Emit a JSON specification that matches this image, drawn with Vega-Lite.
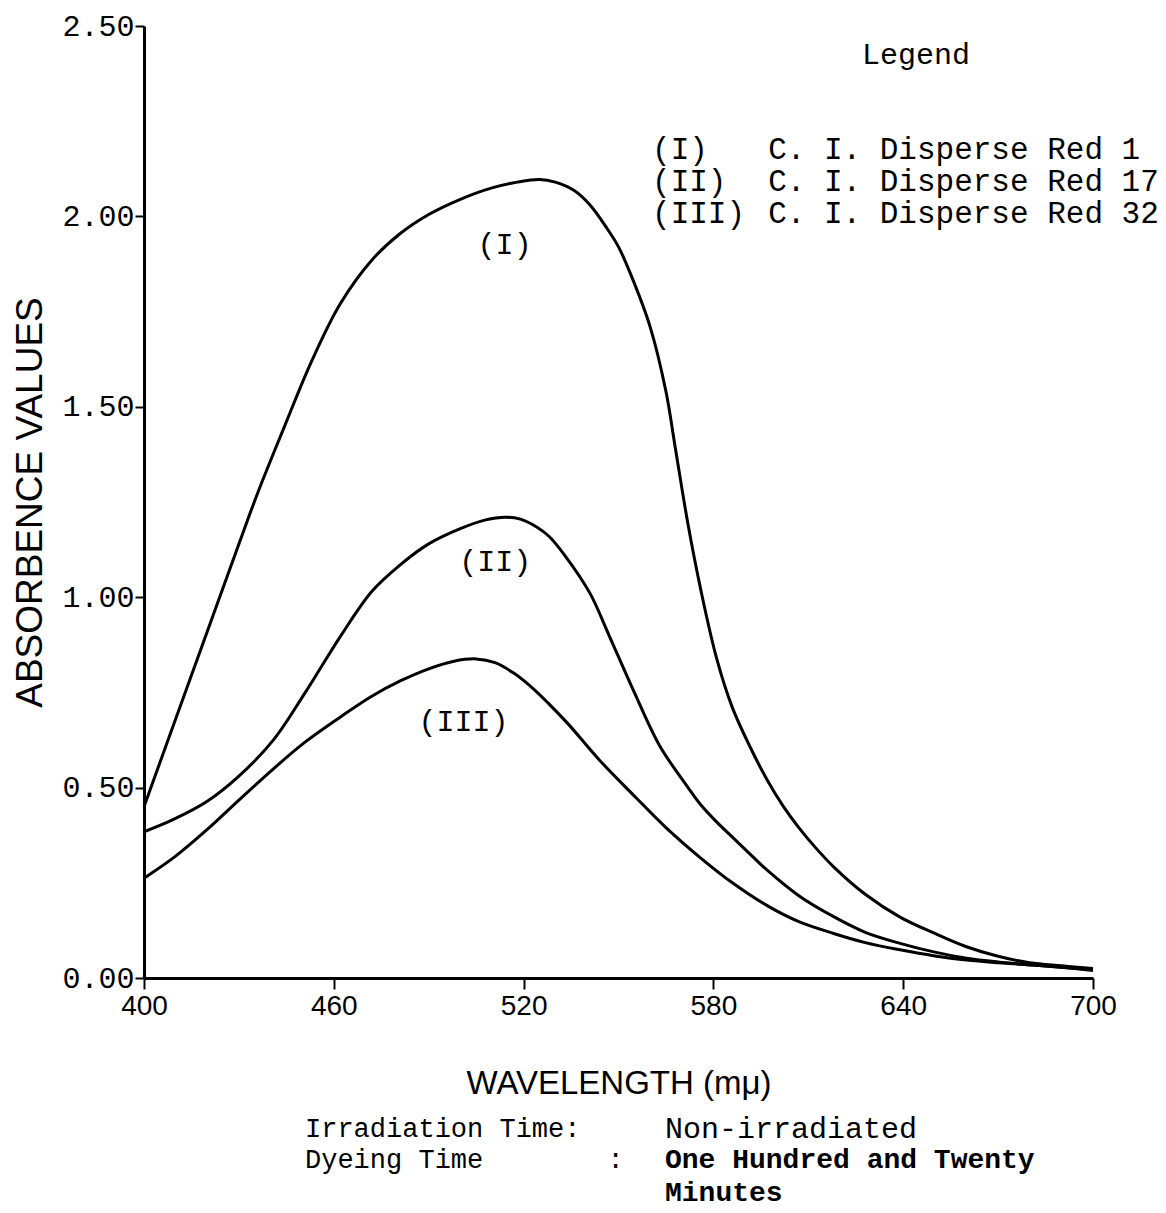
{
  "$schema": "https://vega.github.io/schema/vega-lite/v6.json",
  "width": 949,
  "height": 952,
  "autosize": {"type": "none"},
  "padding": {"left": 144, "top": 26, "right": 73, "bottom": 235},
  "background": "white",
  "config": {"view": {"stroke": null}},
  "datasets": {
    "curves": [
      {"dye": "I", "wl": 400, "A": 0.45}, {"dye": "I", "wl": 410, "A": 0.68}, {"dye": "I", "wl": 420, "A": 0.91}, {"dye": "I", "wl": 430, "A": 1.14}, {"dye": "I", "wl": 436, "A": 1.275}, {"dye": "I", "wl": 444, "A": 1.44}, {"dye": "I", "wl": 453, "A": 1.62}, {"dye": "I", "wl": 462, "A": 1.77}, {"dye": "I", "wl": 472, "A": 1.885}, {"dye": "I", "wl": 481, "A": 1.955}, {"dye": "I", "wl": 490, "A": 2.005}, {"dye": "I", "wl": 500, "A": 2.045}, {"dye": "I", "wl": 510, "A": 2.075}, {"dye": "I", "wl": 518, "A": 2.09}, {"dye": "I", "wl": 525, "A": 2.097}, {"dye": "I", "wl": 530, "A": 2.09}, {"dye": "I", "wl": 536, "A": 2.068}, {"dye": "I", "wl": 541, "A": 2.03}, {"dye": "I", "wl": 546, "A": 1.973}, {"dye": "I", "wl": 550, "A": 1.92}, {"dye": "I", "wl": 554, "A": 1.845}, {"dye": "I", "wl": 560, "A": 1.71}, {"dye": "I", "wl": 565, "A": 1.54}, {"dye": "I", "wl": 568, "A": 1.39}, {"dye": "I", "wl": 572, "A": 1.19}, {"dye": "I", "wl": 576, "A": 1.02}, {"dye": "I", "wl": 581, "A": 0.84}, {"dye": "I", "wl": 586, "A": 0.71}, {"dye": "I", "wl": 592, "A": 0.6}, {"dye": "I", "wl": 597, "A": 0.52}, {"dye": "I", "wl": 602, "A": 0.452}, {"dye": "I", "wl": 607, "A": 0.395}, {"dye": "I", "wl": 612, "A": 0.345}, {"dye": "I", "wl": 618, "A": 0.292}, {"dye": "I", "wl": 628, "A": 0.22}, {"dye": "I", "wl": 639, "A": 0.16}, {"dye": "I", "wl": 650, "A": 0.117}, {"dye": "I", "wl": 660, "A": 0.082}, {"dye": "I", "wl": 670, "A": 0.057}, {"dye": "I", "wl": 680, "A": 0.04}, {"dye": "I", "wl": 690, "A": 0.032}, {"dye": "I", "wl": 700, "A": 0.025},
      {"dye": "II", "wl": 400, "A": 0.384}, {"dye": "II", "wl": 409, "A": 0.415}, {"dye": "II", "wl": 420, "A": 0.464}, {"dye": "II", "wl": 430, "A": 0.53}, {"dye": "II", "wl": 441, "A": 0.626}, {"dye": "II", "wl": 451, "A": 0.75}, {"dye": "II", "wl": 462, "A": 0.896}, {"dye": "II", "wl": 472, "A": 1.015}, {"dye": "II", "wl": 481, "A": 1.085}, {"dye": "II", "wl": 490, "A": 1.14}, {"dye": "II", "wl": 500, "A": 1.18}, {"dye": "II", "wl": 508, "A": 1.203}, {"dye": "II", "wl": 514, "A": 1.21}, {"dye": "II", "wl": 519, "A": 1.205}, {"dye": "II", "wl": 524, "A": 1.185}, {"dye": "II", "wl": 528, "A": 1.16}, {"dye": "II", "wl": 533, "A": 1.11}, {"dye": "II", "wl": 541, "A": 1.01}, {"dye": "II", "wl": 547, "A": 0.9}, {"dye": "II", "wl": 555, "A": 0.75}, {"dye": "II", "wl": 563, "A": 0.61}, {"dye": "II", "wl": 572, "A": 0.5}, {"dye": "II", "wl": 576, "A": 0.455}, {"dye": "II", "wl": 581, "A": 0.41}, {"dye": "II", "wl": 586, "A": 0.37}, {"dye": "II", "wl": 592, "A": 0.322}, {"dye": "II", "wl": 597, "A": 0.283}, {"dye": "II", "wl": 607, "A": 0.216}, {"dye": "II", "wl": 618, "A": 0.161}, {"dye": "II", "wl": 628, "A": 0.12}, {"dye": "II", "wl": 639, "A": 0.091}, {"dye": "II", "wl": 650, "A": 0.068}, {"dye": "II", "wl": 660, "A": 0.052}, {"dye": "II", "wl": 670, "A": 0.042}, {"dye": "II", "wl": 681, "A": 0.034}, {"dye": "II", "wl": 690, "A": 0.028}, {"dye": "II", "wl": 700, "A": 0.022},
      {"dye": "III", "wl": 400, "A": 0.262}, {"dye": "III", "wl": 410, "A": 0.32}, {"dye": "III", "wl": 420, "A": 0.39}, {"dye": "III", "wl": 430, "A": 0.467}, {"dye": "III", "wl": 441, "A": 0.55}, {"dye": "III", "wl": 451, "A": 0.62}, {"dye": "III", "wl": 462, "A": 0.685}, {"dye": "III", "wl": 472, "A": 0.74}, {"dye": "III", "wl": 481, "A": 0.78}, {"dye": "III", "wl": 490, "A": 0.812}, {"dye": "III", "wl": 498, "A": 0.832}, {"dye": "III", "wl": 505, "A": 0.838}, {"dye": "III", "wl": 511, "A": 0.828}, {"dye": "III", "wl": 517, "A": 0.8}, {"dye": "III", "wl": 523, "A": 0.76}, {"dye": "III", "wl": 528, "A": 0.72}, {"dye": "III", "wl": 534, "A": 0.668}, {"dye": "III", "wl": 544, "A": 0.572}, {"dye": "III", "wl": 555, "A": 0.478}, {"dye": "III", "wl": 565, "A": 0.395}, {"dye": "III", "wl": 576, "A": 0.315}, {"dye": "III", "wl": 586, "A": 0.25}, {"dye": "III", "wl": 597, "A": 0.19}, {"dye": "III", "wl": 607, "A": 0.148}, {"dye": "III", "wl": 618, "A": 0.117}, {"dye": "III", "wl": 628, "A": 0.093}, {"dye": "III", "wl": 639, "A": 0.074}, {"dye": "III", "wl": 650, "A": 0.058}, {"dye": "III", "wl": 660, "A": 0.047}, {"dye": "III", "wl": 670, "A": 0.04}, {"dye": "III", "wl": 681, "A": 0.034}, {"dye": "III", "wl": 690, "A": 0.028}, {"dye": "III", "wl": 700, "A": 0.02}
    ],
    "curveLabels": [
      {"label": "(I)", "wl": 514, "A": 1.925},
      {"label": "(II)", "wl": 511, "A": 1.092},
      {"label": "(III)", "wl": 501, "A": 0.672}
    ],
    "legendTitle": [{"text": "Legend", "wl": 627, "A": 2.424}],
    "legendKeys": [
      {"text": "(I)", "wl": 560.6, "A": 2.174},
      {"text": "(II)", "wl": 560.6, "A": 2.09},
      {"text": "(III)", "wl": 560.6, "A": 2.006}
    ],
    "legendNames": [
      {"text": "C. I. Disperse Red 1", "wl": 597.3, "A": 2.174},
      {"text": "C. I. Disperse Red 17", "wl": 597.3, "A": 2.09},
      {"text": "C. I. Disperse Red 32", "wl": 597.3, "A": 2.006}
    ],
    "noteLeft": [
      {"text": "Irradiation Time:", "wl": 450.9, "A": -0.396},
      {"text": "Dyeing Time", "wl": 450.9, "A": -0.478},
      {"text": ":", "wl": 546.5, "A": -0.478}
    ],
    "noteRight": [
      {"text": "Non-irradiated", "wl": 564.7, "A": -0.396}
    ],
    "noteBold": [
      {"text": "One Hundred and Twenty", "wl": 564.7, "A": -0.478},
      {"text": "Minutes", "wl": 564.7, "A": -0.564}
    ]
  },
  "layer": [
    {
      "data": {"name": "curves"},
      "mark": {"type": "line", "color": "black", "strokeWidth": 3, "interpolate": "catmull-rom"},
      "encoding": {
        "x": {
          "field": "wl", "type": "quantitative",
          "scale": {"domain": [400, 700], "nice": false, "zero": false},
          "axis": {
            "values": [400, 460, 520, 580, 640, 700], "format": "d", "grid": false, "labelFlush": false,
            "domainColor": "black", "domainWidth": 3, "tickColor": "black", "tickWidth": 2, "tickSize": 11,
            "labelFont": "Liberation Sans", "labelFontSize": 28, "labelColor": "black", "labelPadding": 3,
            "title": "WAVELENGTH (mμ)", "titleFont": "Liberation Sans", "titleFontSize": 33,
            "titleFontWeight": "normal", "titleColor": "black", "titlePadding": 47
          }
        },
        "y": {
          "field": "A", "type": "quantitative",
          "scale": {"domain": [0, 2.5], "nice": false},
          "axis": {
            "values": [0, 0.5, 1, 1.5, 2, 2.5], "format": ".2f", "grid": false,
            "domainColor": "black", "domainWidth": 3, "tickColor": "black", "tickWidth": 2, "tickSize": 9,
            "labelFont": "Liberation Mono", "labelFontSize": 30, "labelColor": "black", "labelPadding": 1,
            "title": "ABSORBENCE VALUES", "titleFont": "Liberation Sans", "titleFontSize": 37,
            "titleFontWeight": "normal", "titleColor": "black", "titlePadding": 12
          }
        },
        "detail": {"field": "dye", "type": "nominal"}
      }
    },
    {
      "data": {"name": "curveLabels"},
      "mark": {"type": "text", "font": "Liberation Mono", "fontSize": 30, "color": "black", "align": "center", "baseline": "middle"},
      "encoding": {
        "x": {"field": "wl", "type": "quantitative"},
        "y": {"field": "A", "type": "quantitative"},
        "text": {"field": "label"}
      }
    },
    {
      "data": {"name": "legendTitle"},
      "mark": {"type": "text", "font": "Liberation Mono", "fontSize": 30, "color": "black", "align": "left", "baseline": "middle"},
      "encoding": {
        "x": {"field": "wl", "type": "quantitative"},
        "y": {"field": "A", "type": "quantitative"},
        "text": {"field": "text"}
      }
    },
    {
      "data": {"name": "legendKeys"},
      "mark": {"type": "text", "font": "Liberation Mono", "fontSize": 31, "color": "black", "align": "left", "baseline": "middle"},
      "encoding": {
        "x": {"field": "wl", "type": "quantitative"},
        "y": {"field": "A", "type": "quantitative"},
        "text": {"field": "text"}
      }
    },
    {
      "data": {"name": "legendNames"},
      "mark": {"type": "text", "font": "Liberation Mono", "fontSize": 31, "color": "black", "align": "left", "baseline": "middle"},
      "encoding": {
        "x": {"field": "wl", "type": "quantitative"},
        "y": {"field": "A", "type": "quantitative"},
        "text": {"field": "text"}
      }
    },
    {
      "data": {"name": "noteLeft"},
      "mark": {"type": "text", "font": "Liberation Mono", "fontSize": 27, "color": "black", "align": "left", "baseline": "middle"},
      "encoding": {
        "x": {"field": "wl", "type": "quantitative"},
        "y": {"field": "A", "type": "quantitative"},
        "text": {"field": "text"}
      }
    },
    {
      "data": {"name": "noteRight"},
      "mark": {"type": "text", "font": "Liberation Mono", "fontSize": 30, "color": "black", "align": "left", "baseline": "middle"},
      "encoding": {
        "x": {"field": "wl", "type": "quantitative"},
        "y": {"field": "A", "type": "quantitative"},
        "text": {"field": "text"}
      }
    },
    {
      "data": {"name": "noteBold"},
      "mark": {"type": "text", "font": "Liberation Mono", "fontSize": 28, "fontWeight": "bold", "color": "black", "align": "left", "baseline": "middle"},
      "encoding": {
        "x": {"field": "wl", "type": "quantitative"},
        "y": {"field": "A", "type": "quantitative"},
        "text": {"field": "text"}
      }
    }
  ]
}
